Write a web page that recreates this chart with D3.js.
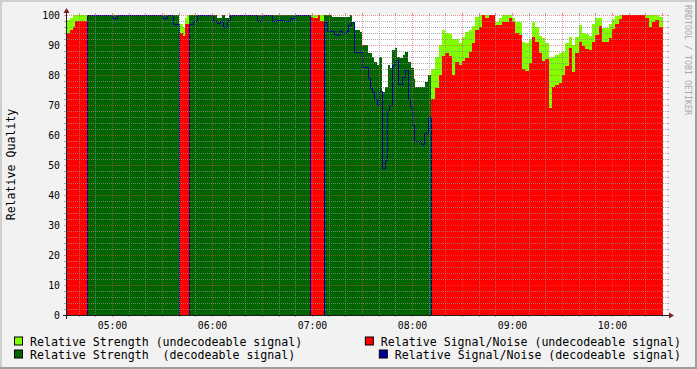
<!DOCTYPE html>
<html>
<head>
<meta charset="utf-8">
<script src="https://cdn.jsdelivr.net/npm/d3@7"></script>
<style>
  body { margin: 0; background: #f2f2f2; }
  svg { display: block; }
  text { font-family: "DejaVu Sans Mono", monospace; }
</style>
</head>
<body>
<svg id="chart" width="697" height="369"></svg>
<script>
// spans where the signal could be decoded
const decodeableSpans = [
  ["04:45:00", "05:40:24"],
  ["05:46:24", "06:58:36"],
  ["07:07:24", "08:11:36"]
];
const dataStart = "04:33:00";
const dataEnd = "10:30:36";
const axisEnd = "10:33:00";

// relative strength, step values [from, value]
const strengthSteps = [
  ["04:33:00", 98.5], ["04:35:00", 99], ["04:36:36", 100],
  ["05:40:24", 97], ["05:42:36", 96], ["05:44:00", 99], ["05:45:00", 100],
  ["06:03:00", 99], ["06:06:00", 100], ["06:07:48", 99], ["06:10:12", 100],
  ["07:11:48", 99.3], ["07:22:48", 100], ["07:24:12", 97.8], ["07:25:48", 95], ["07:28:48", 94.4],
  ["07:30:12", 90], ["07:33:24", 87.4], ["07:35:48", 86.1], ["07:37:24", 84.4], ["07:38:48", 83.3],
  ["07:40:24", 85.9], ["07:41:48", 74.4], ["07:43:48", 76], ["07:45:24", 83.3], ["07:46:48", 82.2],
  ["07:48:12", 88.3], ["07:49:48", 88.9], ["07:50:48", 86.1], ["07:52:48", 85.6], ["07:54:24", 86.7],
  ["07:55:48", 87.8], ["07:57:48", 84.4], ["07:59:24", 82.2], ["08:01:12", 78.6], ["08:01:48", 76.1],
  ["08:07:48", 77.8], ["08:09:48", 80],
  ["08:11:36", 82], ["08:14:00", 86], ["08:16:00", 90], ["08:18:00", 95], ["08:20:00", 94],
  ["08:22:00", 93.5], ["08:24:00", 92], ["08:28:00", 90.6], ["08:30:00", 92.5], ["08:32:00", 94.5],
  ["08:34:00", 95], ["08:36:00", 96.3], ["08:38:00", 99.4], ["08:40:00", 100], ["08:50:00", 97.8],
  ["08:52:00", 98.9], ["08:54:00", 100], ["09:00:00", 98.9], ["09:02:00", 97.8], ["09:06:00", 91.1],
  ["09:08:00", 90.6], ["09:10:00", 92], ["09:12:00", 97.8], ["09:14:00", 96.1], ["09:16:00", 93],
  ["09:18:00", 92.2], ["09:20:00", 90.6], ["09:22:00", 85.6], ["09:24:00", 85.9], ["09:26:00", 86.7],
  ["09:28:00", 87.2], ["09:30:00", 87.8], ["09:32:00", 90.6], ["09:34:00", 92.8], ["09:36:00", 90],
  ["09:38:00", 92.8], ["09:40:00", 96.8], ["09:42:00", 93.9], ["09:44:00", 93.7], ["09:46:00", 93],
  ["09:48:00", 97], ["09:50:00", 98.9], ["09:54:00", 95.6], ["09:58:00", 97], ["10:00:00", 98.6],
  ["10:02:00", 99.7], ["10:04:00", 100], ["10:28:00", 99.4]
];

// relative signal/noise, step values [from, value]
const snrSteps = [
  ["04:33:00", 94], ["04:35:00", 95], ["04:36:36", 96], ["04:37:48", 98],
  ["04:45:00", 100], ["05:00:00", 99], ["05:03:00", 100], ["05:30:00", 99], ["05:33:00", 100], ["05:36:36", 97],
  ["05:40:24", 94], ["05:42:36", 93], ["05:44:00", 97],
  ["05:48:36", 98], ["05:51:00", 100], ["06:00:36", 98], ["06:03:00", 97.5], ["06:04:48", 98],
  ["06:06:36", 96], ["06:09:00", 98.5], ["06:10:48", 100], ["06:27:00", 98], ["06:30:00", 100],
  ["06:36:00", 98], ["06:39:00", 98.5], ["06:42:36", 98], ["06:46:48", 99], ["06:49:48", 100],
  ["06:58:36", 99.5], ["07:00:36", 99], ["07:03:36", 100], ["07:04:48", 98],
  ["07:07:24", 97.8], ["07:08:48", 94.8], ["07:13:24", 93.7], ["07:14:48", 93.3], ["07:16:12", 94.8],
  ["07:18:12", 93.9], ["07:20:12", 94.8], ["07:21:48", 96.7], ["07:23:24", 97.8], ["07:25:24", 87.8],
  ["07:29:48", 82.8], ["07:33:24", 78.9], ["07:34:48", 75.6], ["07:36:12", 74.4], ["07:37:24", 71.9],
  ["07:38:48", 70], ["07:40:24", 74.8], ["07:41:48", 49], ["07:43:48", 51.7], ["07:44:48", 68.3],
  ["07:46:24", 70], ["07:48:12", 83.3], ["07:49:48", 85], ["07:51:24", 77], ["07:54:12", 79.4],
  ["07:55:48", 81.7], ["07:57:24", 71.9], ["07:58:48", 69.7], ["08:00:12", 63.3], ["08:01:24", 58],
  ["08:05:24", 57], ["08:07:24", 60.8], ["08:09:48", 65.9],
  ["08:11:36", 72], ["08:14:00", 75.6], ["08:16:00", 80], ["08:18:00", 86.5], ["08:20:00", 87.5],
  ["08:22:00", 86.5], ["08:24:00", 80], ["08:26:00", 84.5], ["08:28:00", 83.3], ["08:30:00", 84.8],
  ["08:32:00", 85.6], ["08:34:00", 87.8], ["08:36:00", 90.6], ["08:38:00", 95], ["08:40:00", 96.1],
  ["08:42:00", 100], ["08:44:00", 98.9], ["08:46:00", 100], ["08:50:00", 96.7], ["08:54:00", 97.8],
  ["08:58:00", 98.9], ["09:00:00", 97.8], ["09:02:00", 93.9], ["09:04:00", 93.3], ["09:06:00", 81.9],
  ["09:08:00", 81.4], ["09:10:00", 84], ["09:12:00", 92.8], ["09:14:00", 91.1], ["09:16:00", 87.2],
  ["09:18:00", 84.8], ["09:20:00", 85.2], ["09:22:00", 69], ["09:24:00", 76.1], ["09:26:00", 76.7],
  ["09:28:00", 77.2], ["09:30:00", 80], ["09:32:00", 83], ["09:34:00", 88.9], ["09:36:00", 81.1],
  ["09:38:00", 87.2], ["09:40:00", 91], ["09:42:00", 89.7], ["09:44:00", 88.6], ["09:46:00", 88.3],
  ["09:48:00", 91], ["09:50:00", 93.3], ["09:52:00", 96.3], ["09:54:00", 91.1], ["09:58:00", 92.2],
  ["10:00:00", 95.2], ["10:02:00", 97], ["10:04:00", 98.6], ["10:06:00", 100], ["10:20:00", 98.9],
  ["10:22:00", 96.1], ["10:24:00", 97.8], ["10:26:00", 98.3], ["10:28:00", 96.1]
];

const yTickValues = [0, 10, 20, 30, 40, 50, 60, 70, 80, 90, 100];
const legendLeft = ["Relative Strength (undecodeable signal)", "Relative Strength  (decodeable signal)"];
const legendRight = ["Relative Signal/Noise (undecodeable signal)", "Relative Signal/Noise (decodeable signal)"];

const colours = { undStrength: "#80ff00", undSnr: "#ff0000", decStrength: "#006400", decSnr: "#000099" };

const parse = d3.timeParse("%H:%M:%S");
const svg = d3.select("#chart");
const W = 697, H = 369;
const X0 = 67, X1 = 667, Y0 = 315, Y1 = 15;

const x = d3.scaleTime().domain([parse(dataStart), parse(axisEnd)]).range([X0, X1]);
const y = d3.scaleLinear().domain([0, 100]).range([Y0, Y1]);

// background + shaded frame
svg.append("rect").attr("width", W).attr("height", H).attr("fill", "#f2f2f2");
svg.append("rect").attr("x", X0).attr("y", Y1).attr("width", X1 - X0).attr("height", Y0 - Y1).attr("fill", "#ffffff");
svg.append("path").attr("d", `M0,0H${W}V2H2V${H}H0Z`).attr("fill", "#cfcfcf");
svg.append("path").attr("d", `M${W},${H}H0V${H-2}H${W-2}V0H${W}Z`).attr("fill", "#9e9e9e");

// build step rows
const strength = strengthSteps.map(([t, v]) => ({t: parse(t), v}));
const snr = snrSteps.map(([t, v]) => ({t: parse(t), v}));
const spans = decodeableSpans.map(([a, b]) => [parse(a), parse(b)]);
const isDec = t => spans.some(([a, b]) => t >= a && t < b);
const stepAt = (steps, t) => {
  let v = 0;
  for (const s of steps) { if (s.t <= t) v = s.v; else break; }
  return v;
};
const allTimes = Array.from(new Set(
  strength.map(d => +d.t).concat(snr.map(d => +d.t), spans.flat().map(Number))
)).sort((a, b) => a - b).map(n => new Date(n));

const rows = allTimes.map(t => {
  const dec = isDec(t), s = stepAt(strength, t), n = stepAt(snr, t);
  return {t, undS: dec ? 0 : s, undN: dec ? 0 : n, decS: dec ? s : 0, decN: dec ? n : 0};
});
rows.push(Object.assign({}, rows[rows.length - 1], {t: parse(dataEnd)}));

const px = d => Math.round(x(d.t));
const areaOf = key => d3.area().curve(d3.curveStepAfter)
  .x(px).y0(Y0).y1(d => Math.round(y(d[key])))(rows);

const data = svg.append("g").attr("shape-rendering", "crispEdges");
data.append("path").attr("d", areaOf("undS")).attr("fill", colours.undStrength);
data.append("path").attr("d", areaOf("undN")).attr("fill", colours.undSnr);
data.append("path").attr("d", areaOf("decS")).attr("fill", colours.decStrength);

svg.append("path")
  .attr("d", d3.line().curve(d3.curveStepAfter)
    .x(d => px(d) + 0.5).y(d => Math.round(y(d.decN)) + 0.5)(rows))
  .attr("fill", "none").attr("stroke", colours.decSnr).attr("stroke-width", 1);

// grid
const gridCol = "rgba(143,143,143,0.75)", mgridCol = "rgba(222,79,79,0.6)";
const grid = svg.append("g").attr("shape-rendering", "crispEdges");
const [d0, d1] = x.domain();
const minorX = d3.timeMinute.every(10).range(d0, d1);
minorX.forEach(t => {
  const major = t.getMinutes() % 30 === 0;
  const c = major ? mgridCol : gridCol;
  const xp = Math.round(x(t)) + 0.5;
  grid.append("line").attr("x1", xp).attr("x2", xp).attr("y1", Y1).attr("y2", Y0)
    .attr("stroke", c).attr("stroke-dasharray", "1,1");
  grid.append("line").attr("x1", xp).attr("x2", xp).attr("y1", Y1 - 2).attr("y2", Y1).attr("stroke", c);
  grid.append("line").attr("x1", xp).attr("x2", xp).attr("y1", Y0).attr("y2", Y0 + 2).attr("stroke", c);
});
d3.range(0, 101, 2).forEach(v => {
  const major = v % 10 === 0;
  const c = major ? mgridCol : gridCol;
  const yp = Math.round(y(v)) + 0.5;
  grid.append("line").attr("x1", X0).attr("x2", X1).attr("y1", yp).attr("y2", yp)
    .attr("stroke", c).attr("stroke-dasharray", "1,1");
  grid.append("line").attr("x1", X0 - 3).attr("x2", X0 - 1).attr("y1", yp).attr("y2", yp).attr("stroke", c);
  grid.append("line").attr("x1", X1).attr("x2", X1 + 2).attr("y1", yp).attr("y2", yp).attr("stroke", c);
});

// axes
const axisCol = "#1f1f1f", arrowCol = "#801f1f";
svg.append("line").attr("x1", X0 - 4).attr("x2", X1 + 4).attr("y1", Y0 + 0.5).attr("y2", Y0 + 0.5)
  .attr("stroke", axisCol).attr("shape-rendering", "crispEdges");
svg.append("line").attr("x1", X0 - 0.5).attr("x2", X0 - 0.5).attr("y1", Y0 + 4).attr("y2", Y1 - 4)
  .attr("stroke", axisCol).attr("shape-rendering", "crispEdges");
svg.append("path").attr("d", `M${X1 + 2},${Y0 - 2.5}L${X1 + 2},${Y0 + 3.5}L${X1 + 7},${Y0 + 0.5}Z`).attr("fill", arrowCol);
svg.append("path").attr("d", `M${X0 - 3.5},${Y1 - 2}L${X0 + 2.5},${Y1 - 2}L${X0 - 0.5},${Y1 - 7}Z`).attr("fill", arrowCol);

// tick labels
svg.append("g").selectAll("text").data(yTickValues).enter().append("text")
  .attr("x", 60).attr("y", v => y(v) + 3.6)
  .attr("text-anchor", "end").attr("font-size", "9.8px").attr("fill", "#000")
  .text(v => v);
svg.append("g").selectAll("text").data(d3.timeHour.range(d0, d1)).enter().append("text")
  .attr("x", t => x(t) + 0.5).attr("y", 328.5)
  .attr("text-anchor", "middle").attr("font-size", "9.8px").attr("fill", "#000")
  .text(d3.timeFormat("%H:%M"));

// titles
svg.append("text").attr("transform", "translate(15,164.5) rotate(-90)")
  .attr("text-anchor", "middle").attr("font-size", "11.6px").attr("fill", "#000")
  .text("Relative Quality");
svg.append("text").attr("transform", "translate(685,60) rotate(90)")
  .attr("text-anchor", "middle").attr("font-size", "8.3px").attr("fill", "#a8a8a8")
  .text("RRDTOOL / TOBI OETIKER");

// legend
const legendRows = [345.5, 358.5];
const addLegend = (label, colour, row, anchorX, right) => {
  const txt = svg.append("text").attr("x", anchorX).attr("y", legendRows[row])
    .attr("text-anchor", right ? "end" : "start")
    .attr("font-size", "11.6px").attr("fill", "#000")
    .style("white-space", "pre").text(label);
  const start = right ? anchorX - txt.node().getComputedTextLength() : anchorX;
  svg.append("rect").attr("x", start - 15.5).attr("y", legendRows[row] - 8.5)
    .attr("width", 8).attr("height", 8).attr("fill", colour)
    .attr("stroke", "#000").attr("stroke-width", 1);
};
addLegend(legendLeft[0], colours.undStrength, 0, 30, false);
addLegend(legendLeft[1], colours.decStrength, 1, 30, false);
addLegend(legendRight[0], colours.undSnr, 0, 681, true);
addLegend(legendRight[1], colours.decSnr, 1, 681, true);
</script>
</body>
</html>
